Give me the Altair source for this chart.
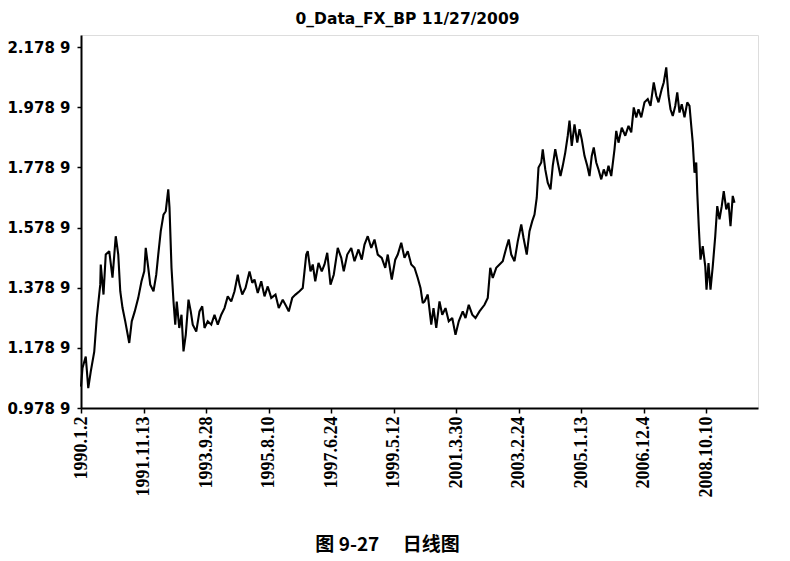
import altair as alt
import pandas as pd

# trading-day index (x) and GBP/USD close (y)
day = [0, 12, 38, 58, 78, 106, 126, 154, 158, 180, 198, 226, 252, 278, 298, 314, 332, 354, 386, 406,
       430, 458, 484, 506, 518, 538, 554, 580, 602, 618, 638, 660, 678, 698, 708, 724, 740, 754, 766, 786,
       804, 820, 838, 860, 878, 894, 922, 948, 970, 988, 1014, 1042, 1068, 1094, 1122, 1148, 1174, 1202, 1228, 1254,
       1268, 1290, 1316, 1348, 1370, 1388, 1414, 1442, 1468, 1494, 1522, 1556, 1582, 1614, 1642, 1662, 1690, 1716, 1748, 1774,
       1788, 1802, 1814, 1836, 1854, 1874, 1900, 1926, 1948, 1970, 1996, 2022, 2054, 2082, 2102, 2130, 2162, 2188, 2220, 2246,
       2268, 2294, 2322, 2348, 2374, 2406, 2434, 2454, 2486, 2514, 2534, 2562, 2588, 2614, 2642, 2668, 2694, 2716, 2734, 2748,
       2774, 2802, 2820, 2842, 2868, 2890, 2916, 2942, 2970, 2996, 3022, 3054, 3076, 3102, 3130, 3156, 3188, 3228, 3254, 3274,
       3294, 3322, 3348, 3374, 3402, 3422, 3442, 3468, 3494, 3522, 3540, 3566, 3588, 3610, 3628, 3646, 3660, 3682, 3694, 3714,
       3734, 3756, 3774, 3794, 3814, 3836, 3854, 3874, 3894, 3908, 3926, 3948, 3970, 3988, 4006, 4028, 4050, 4068, 4086, 4102,
       4122, 4140, 4162, 4182, 4202, 4220, 4242, 4268, 4282, 4300, 4326, 4354, 4380, 4402, 4422, 4442, 4460, 4482, 4508, 4534,
       4556, 4582, 4602, 4620, 4646, 4662, 4682, 4700, 4716, 4734, 4754, 4770, 4788, 4806, 4828, 4850, 4868, 4882, 4894, 4908,
       4922, 4930, 4942, 4956, 4974, 4994, 5004, 5020, 5036, 5054, 5074, 5090, 5108, 5126, 5142, 5162, 5180, 5196, 5214, 5228]

rate = [1.050, 1.112, 1.150, 1.045, 1.100, 1.166, 1.279, 1.389, 1.456, 1.356, 1.489, 1.500, 1.412, 1.550, 1.489, 1.367, 1.312, 1.267, 1.195, 1.267,
        1.300, 1.345, 1.400, 1.433, 1.511, 1.445, 1.389, 1.367, 1.422, 1.489, 1.567, 1.622, 1.633, 1.706, 1.645, 1.445, 1.333, 1.256, 1.333, 1.245,
        1.289, 1.167, 1.222, 1.339, 1.300, 1.256, 1.233, 1.300, 1.317, 1.245, 1.267, 1.256, 1.289, 1.256, 1.289, 1.311, 1.350, 1.333, 1.367, 1.422,
        1.389, 1.356, 1.378, 1.433, 1.395, 1.406, 1.361, 1.400, 1.350, 1.383, 1.345, 1.356, 1.311, 1.339, 1.317, 1.300, 1.345, 1.356, 1.367, 1.378,
        1.433, 1.489, 1.500, 1.433, 1.456, 1.400, 1.461, 1.433, 1.456, 1.495, 1.389, 1.422, 1.511, 1.478, 1.433, 1.489, 1.511, 1.467, 1.506, 1.472,
        1.522, 1.550, 1.511, 1.539, 1.489, 1.478, 1.445, 1.489, 1.406, 1.472, 1.489, 1.528, 1.478, 1.500, 1.456, 1.445, 1.411, 1.378, 1.328, 1.333,
        1.356, 1.256, 1.311, 1.245, 1.333, 1.289, 1.311, 1.267, 1.278, 1.222, 1.267, 1.300, 1.278, 1.322, 1.289, 1.278, 1.300, 1.322, 1.345, 1.445,
        1.411, 1.445, 1.456, 1.467, 1.511, 1.539, 1.489, 1.467, 1.533, 1.589, 1.545, 1.489, 1.567, 1.600, 1.622, 1.678, 1.778, 1.795, 1.839, 1.772,
        1.728, 1.706, 1.784, 1.839, 1.795, 1.750, 1.784, 1.828, 1.884, 1.934, 1.850, 1.922, 1.861, 1.906, 1.872, 1.817, 1.784, 1.750, 1.817, 1.845,
        1.795, 1.772, 1.739, 1.772, 1.750, 1.784, 1.750, 1.839, 1.900, 1.861, 1.911, 1.884, 1.917, 1.895, 1.978, 1.945, 1.972, 1.945, 1.995, 2.006,
        1.983, 2.061, 2.017, 1.995, 2.039, 2.061, 2.111, 2.017, 1.972, 1.950, 1.983, 2.028, 1.961, 1.989, 1.945, 1.995, 1.983, 1.917, 1.861, 1.761,
        1.795, 1.695, 1.583, 1.472, 1.517, 1.450, 1.372, 1.461, 1.372, 1.450, 1.550, 1.650, 1.606, 1.650, 1.700, 1.639, 1.661, 1.583, 1.684, 1.661]

tick_days = [0, 500, 1000, 1500, 2000, 2500, 3000, 3500, 4000, 4500, 5000]
tick_labels = ["1990.1.2", "1991.11.13", "1993.9.28", "1995.8.10", "1997.6.24", "1999.5.12",
               "2001.3.30", "2003.2.24", "2005.1.13", "2006.12.4", "2008.10.10"]
y_ticks = [0.9789, 1.1789, 1.3789, 1.5789, 1.7789, 1.9789, 2.1789]

df = pd.DataFrame({"day": day, "rate": rate})

label_array = "[" + ",".join("'" + s + "'" for s in tick_labels) + "]"

chart = alt.Chart(df).mark_line(color="black", strokeWidth=2.1, strokeJoin="miter", strokeMiterLimit=2).encode(
    x=alt.X("day:Q",
            scale=alt.Scale(domain=[0, 5416], nice=False, zero=False),
            axis=alt.Axis(values=tick_days,
                          labelExpr=label_array + "[round(datum.value/500)]",
                          labelAngle=270, labelFont="Liberation Serif", labelFontWeight="bold",
                          labelFontSize=18, labelColor="black", labelPadding=3,
                          tickSize=5, tickColor="black", tickWidth=1.5,
                          domainColor="black", domainWidth=2, grid=False,
                          labelOverlap=False, labelFlush=False,
                          title="图 9-27\u3000 日线图", titleFont="Noto Sans CJK SC",
                          titleFontWeight="bold", titleFontSize=19, titleColor="black",
                          titleX=306, titleY=136, titleBaseline="middle", titleAlign="center")),
    y=alt.Y("rate:Q",
            scale=alt.Scale(domain=[0.9789, 2.2189], nice=False, zero=False),
            axis=alt.Axis(values=y_ticks,
                          labelExpr="substring(format(datum.value,'.4f'),0,5) + ' ' + substring(format(datum.value,'.4f'),5)",
                          labelFont="DejaVu Sans", labelFontWeight="bold", labelFontSize=15,
                          labelColor="black", labelPadding=7,
                          tickSize=4, tickColor="black", tickWidth=1.5,
                          domainColor="black", domainWidth=2, grid=False,
                          labelOverlap=False, labelFlush=False, title=None)),
).properties(
    width=677, height=373,
    title=alt.TitleParams("0_Data_FX_BP 11/27/2009", font="DejaVu Sans", fontWeight="bold",
                          fontSize=15.5, color="black", anchor="middle", dx=-12, offset=8),
    autosize=alt.AutoSizeParams(type="none"),
    padding={"left": 73, "top": 27, "right": 24, "bottom": 153},
).configure_view(stroke="#444", strokeWidth=1).configure(background="white")

chart.save("out.html", embed_options={"renderer": "svg", "actions": False})
